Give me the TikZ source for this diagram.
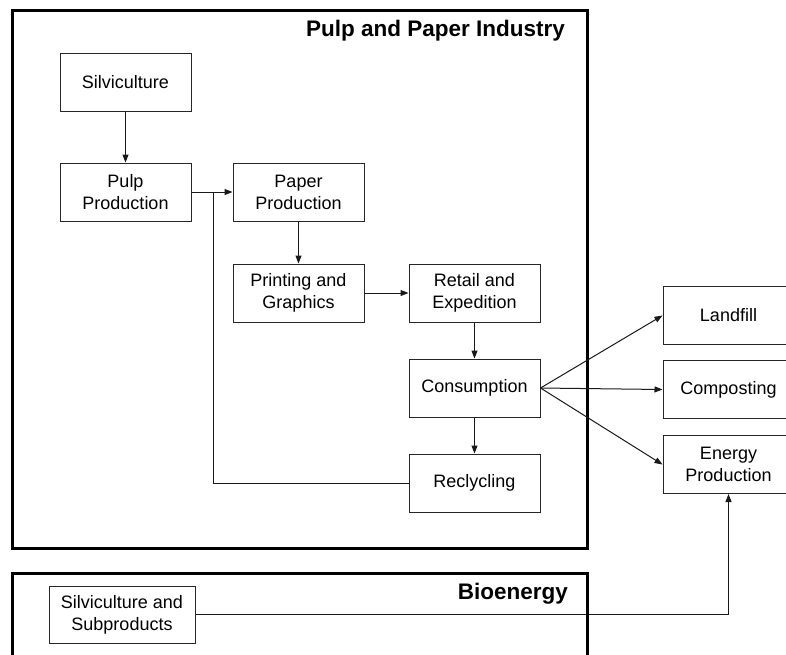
\documentclass[tikz,border=0pt]{standalone}
\usepackage{fontspec}
\setmainfont{Liberation Sans}
\usetikzlibrary{arrows.meta}
\begin{document}
\begin{tikzpicture}[x=1pt,y=-1pt,
  stage/.style={draw=black!85,line width=1pt,fill=white,minimum width=131pt,minimum height=58pt,inner sep=0pt,align=center,font=\fontsize{18}{22}\selectfont},
  region/.style={draw=black,line width=3pt},
  title/.style={font=\fontsize{22.5}{26}\selectfont\bfseries,inner sep=0pt},
  flow/.style={draw=black!90,line width=1pt,-{Triangle[length=8pt,width=6pt]}},
  link/.style={draw=black!90,line width=1pt}]
\useasboundingbox (0,0) rectangle (786,654);
\clip (0,0) rectangle (786,654);
% regions
\draw[region] (12,10) rectangle (587,548);
\draw[region] (12,573) rectangle (587,700);
\node[title,anchor=base east] (tpp) at (565,36) {Pulp and Paper Industry};
% nodes
\node[stage] (silv) at (125.5,82) {Silviculture};
\node[stage] (pulp) at (125.5,192) {Pulp\\Production};
\node[stage] (paper) at (298.5,192) {Paper\\Production};
\node[stage] (print) at (298.5,293) {Printing and\\Graphics};
\node[stage] (retail) at (474.5,293) {Retail and\\Expedition};
\node[stage] (cons) at (474.5,388) {Consumption};
\node[stage] (recyc) at (474.5,483) {Reclycling};
\node[stage] (landfill) at (728.5,315.5) {Landfill};
\node[stage] (compost) at (728.5,389.5) {Composting};
\node[stage] (energy) at (728.5,464.5) {Energy\\Production};
\node[stage,minimum width=146pt,minimum height=57pt] (silvsub) at (122,614.5) {Silviculture and\\Subproducts};
\node[title,anchor=base east] (tbio) at (568,599) {Bioenergy};
\coordinate (j) at (213,192);
% connectors
\draw[flow] (silv) -- (pulp);
\draw[flow] (pulp) -- (paper);
\draw[flow] (paper) -- (print);
\draw[flow] (print) -- (retail);
\draw[flow] (retail) -- (cons);
\draw[flow] (cons) -- (recyc);
\draw[link] (recyc.west) -| (j);
\draw[flow] (cons.east) -- (landfill.west);
\draw[flow] (cons.east) -- (compost.west);
\draw[flow] (cons.east) -- (energy.west);
\draw[flow] (silvsub.east) -| (energy.south);
% redraw region border over connector crossing
\draw[region] (587,573) -- (587,700);
\end{tikzpicture}
\end{document}
